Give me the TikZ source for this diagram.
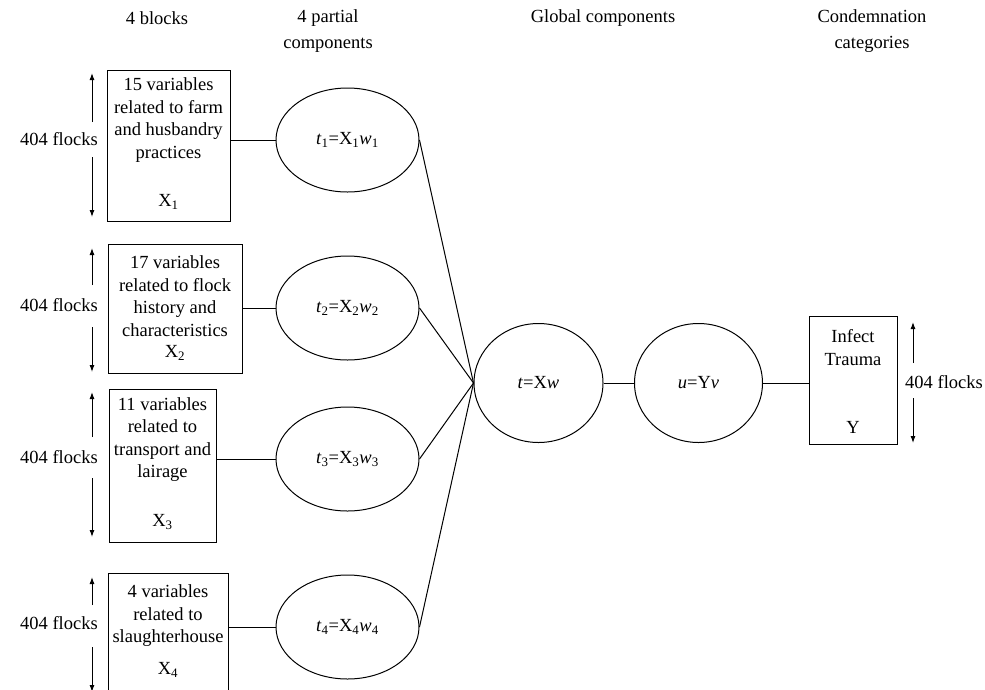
\documentclass[tikz,border=0pt]{standalone}
\usepackage{fontspec}
\setmainfont{Liberation Serif}
\usetikzlibrary{shapes.geometric,arrows.meta}
\tikzset{
  base/.style={font=\fontsize{18.5}{22.5}\selectfont, inner sep=0pt},
  blockbox/.style={draw, line width=1pt, rectangle, inner sep=0pt},
  comp/.style={draw, line width=1pt, ellipse, inner sep=0pt, base},
  head/.style={base, align=center, font=\fontsize{18.5}{26}\selectfont},
  txt/.style={base, align=center},
  link/.style={line width=1pt},
  dim/.style={line width=1pt, -{Latex[length=7pt,width=5pt]}},
}
\newcommand{\sub}[1]{\textsubscript{#1}}
\begin{document}
\begin{tikzpicture}[x=1pt,y=-1pt]
\useasboundingbox (0,0) rectangle (985,689);
\clip (0,0) rectangle (985,689);

% headers
\node[head] (h1) at (157,18) {4 blocks};
\node[head] (h2) at (328,31) {4 partial\\components};
\node[head] (h3) at (603,18) {Global components};
\node[head] (h4) at (872,31) {Condemnation\\categories};

% block boxes
\node[blockbox, minimum width=123pt, minimum height=151pt] (b1) at (168.5,145.5) {};
\node[blockbox, minimum width=134pt, minimum height=129pt] (b2) at (175,308.5) {};
\node[blockbox, minimum width=107pt, minimum height=153pt] (b3) at (162.5,465.5) {};
\node[blockbox, minimum width=120pt, minimum height=140pt] (b4) at (168,643) {};

\node[txt] (b1t) at (168.5,120) {15 variables\\related to farm\\and husbandry\\practices};
\node[txt] (b1x) at (168.5,202) {X\sub{1}};
\node[txt] (b2t) at (175,296) {17 variables\\related to flock\\history and\\characteristics};
\node[txt] (b2x) at (175,353) {X\sub{2}};
\node[txt] (b3t) at (162.5,439.5) {11 variables\\related to\\transport and\\lairage};
\node[txt] (b3x) at (162.5,522) {X\sub{3}};
\node[txt] (b4t) at (168,616) {4 variables\\related to\\slaughterhouse};
\node[txt] (b4x) at (168,670) {X\sub{4}};

% flock dimension labels and arrows
\node[txt] (f1) at (59,139) {404 flocks};
\node[txt] (f2) at (59,305) {404 flocks};
\node[txt] (f3) at (59,457) {404 flocks};
\node[txt] (f4) at (59,623) {404 flocks};
\node[txt] (f5) at (944,382) {404 flocks};

\coordinate (a1t) at (92,73);  \coordinate (a1u) at (92,122);
\coordinate (a1d) at (92,157); \coordinate (a1b) at (92,217);
\coordinate (a2t) at (92,248); \coordinate (a2u) at (92,285);
\coordinate (a2d) at (92,327); \coordinate (a2b) at (92,372);
\coordinate (a3t) at (92,392); \coordinate (a3u) at (92,437);
\coordinate (a3d) at (92,478); \coordinate (a3b) at (92,537);
\coordinate (a4t) at (92,577); \coordinate (a4u) at (92,605);
\coordinate (a4d) at (92,647); \coordinate (a4b) at (92,692);
\coordinate (a5t) at (913,322); \coordinate (a5u) at (913,363);
\coordinate (a5d) at (913,398); \coordinate (a5b) at (913,443);
\foreach \i in {1,...,5}{
  \draw[dim] (a\i u) -- (a\i t);
  \draw[dim] (a\i d) -- (a\i b);
}

% partial components
\node[comp, minimum width=143pt, minimum height=104pt] (e1) at (347.5,140) {\textit{t}\sub{1}=X\sub{1}\textit{w}\sub{1}};
\node[comp, minimum width=143pt, minimum height=104pt] (e2) at (347.5,308) {\textit{t}\sub{2}=X\sub{2}\textit{w}\sub{2}};
\node[comp, minimum width=143pt, minimum height=104pt] (e3) at (347.5,459) {\textit{t}\sub{3}=X\sub{3}\textit{w}\sub{3}};
\node[comp, minimum width=143pt, minimum height=104pt] (e4) at (347.5,627) {\textit{t}\sub{4}=X\sub{4}\textit{w}\sub{4}};

% global components
\node[comp, minimum width=129pt, minimum height=119pt] (t) at (538.5,383) {\textit{t}=X\textit{w}};
\node[comp, minimum width=128pt, minimum height=119pt] (u) at (698.5,383) {\textit{u}=Y\textit{v}};

% condemnation box
\node[blockbox, minimum width=88pt, minimum height=128pt] (yb) at (853,380) {};
\node[txt] (ybt) at (853,347.5) {Infect\\Trauma};
\node[txt] (ybx) at (853,427) {Y};

% connectors
\foreach \i in {1,...,4}{
  \draw[link] (e\i.west) -- (e\i.west -| b\i.east);
  \draw[link] (e\i.east) -- (t.west);
}
\draw[link] (t.east) -- (u.west);
\draw[link] (u.east) -- (u.east -| yb.west);
\end{tikzpicture}
\end{document}
